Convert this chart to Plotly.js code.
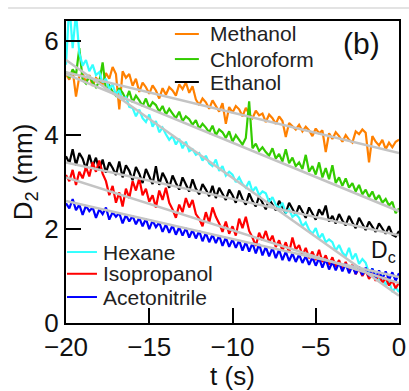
<!DOCTYPE html>
<html>
<head>
<meta charset="utf-8">
<script src="https://cdn.plot.ly/plotly-3.0.1.min.js"></script>
<style>html,body{margin:0;padding:0;background:#fff;}#chart{width:409px;height:391px;}</style>
</head>
<body>
<div id="chart"></div>
<script>
// sampling: t from -20 s, step 0.2 s
const t0 = -20, dt = 0.2;

const methanol = [
 5.30,5.18,5.38,4.82,5.25,5.32,5.12,5.28,5.05,5.22,
 5.15,5.08,5.32,5.20,5.45,5.30,4.55,5.36,5.22,5.30,
 5.05,5.20,4.92,5.12,5.02,4.88,5.06,4.95,4.78,5.00,
 4.86,5.02,4.95,4.84,5.08,4.98,5.12,4.90,5.04,4.76,
 4.64,4.78,4.70,4.56,4.74,4.62,4.50,4.68,4.24,4.60,
 4.48,4.62,4.55,4.40,4.58,4.45,4.36,4.52,4.42,4.46,
 4.28,4.44,4.36,4.24,4.40,4.30,3.96,4.26,4.18,4.12,
 4.22,4.08,4.18,4.10,3.98,4.14,4.04,4.10,3.64,4.04,
 3.92,4.06,3.98,3.86,4.00,3.90,3.84,4.08,4.02,4.12,
 4.05,3.42,3.98,3.86,3.78,3.90,3.70,3.84,3.74,3.86,
 3.90];
const chloroform = [
 5.35,5.22,5.40,5.28,5.85,5.18,5.10,5.26,5.12,5.02,
 5.14,5.55,4.96,5.06,4.92,4.84,5.00,4.90,4.76,4.94,
 4.70,4.84,4.74,4.62,4.78,4.58,4.70,4.64,4.50,4.62,
 4.44,4.56,4.46,4.36,4.50,4.30,4.40,4.34,4.22,4.32,
 4.14,4.24,4.16,4.06,4.20,4.00,4.12,4.06,3.94,4.08,
 3.86,4.00,3.90,3.80,3.94,4.72,3.72,3.82,3.66,3.74,
 3.64,3.56,3.72,3.50,3.60,3.44,3.70,3.40,3.52,3.34,
 3.42,3.28,3.58,3.22,3.34,3.16,3.42,3.10,3.30,3.06,
 3.36,2.98,3.10,2.92,3.08,2.88,2.98,2.80,2.94,2.74,
 2.84,2.68,2.80,2.62,2.72,2.56,2.64,2.50,2.58,2.34,
 2.44];
const ethanol = [
 3.55,3.40,3.70,3.36,3.62,3.50,3.28,3.58,3.34,3.52,
 3.25,3.48,3.20,3.42,3.30,3.15,3.44,3.10,3.36,3.24,
 3.04,3.32,3.18,2.98,3.28,3.12,2.96,3.34,2.94,3.20,
 3.06,2.88,3.14,2.98,2.84,3.10,2.96,2.80,3.06,2.86,
 2.74,2.96,2.84,2.70,2.92,2.66,2.88,2.76,2.62,2.84,
 2.72,2.56,2.82,2.64,2.52,2.76,2.60,2.48,2.70,2.56,
 2.42,2.64,2.52,2.40,2.60,2.46,2.34,2.56,2.44,2.30,
 2.50,2.36,2.24,2.46,2.34,2.20,2.42,2.30,2.50,2.16,
 2.28,2.12,2.32,2.18,2.08,2.28,2.14,2.02,2.24,2.12,
 1.98,2.16,2.04,1.94,2.12,2.00,1.90,2.06,1.88,1.84,
 1.96];
const hexane = [
 5.50,6.80,5.85,6.60,5.75,5.48,5.60,5.36,5.50,5.28,
 5.34,5.12,5.20,4.98,5.08,4.86,4.96,4.74,4.82,4.60,
 4.58,4.40,4.54,4.36,4.28,4.44,4.18,4.30,4.06,4.16,
 4.02,3.90,3.98,3.80,3.92,3.72,3.86,3.66,3.70,3.58,
 3.62,3.46,3.56,3.40,3.34,3.48,3.24,3.34,3.14,3.22,
 3.16,3.00,3.10,2.96,2.88,3.02,2.80,2.90,2.72,2.80,
 2.76,2.58,2.68,2.52,2.44,2.56,2.34,2.42,2.26,2.32,
 2.24,2.06,2.14,1.98,1.90,2.02,1.80,1.90,1.72,1.78,
 1.72,1.54,1.66,1.50,1.42,1.60,1.36,1.48,1.26,1.36,
 1.28,1.06,1.16,0.98,0.90,1.02,0.80,0.90,0.66,0.76,
 0.66];
const isopropanol = [
 3.15,3.02,3.26,2.94,3.22,3.08,3.32,3.12,3.42,3.22,
 3.46,3.18,3.02,2.72,2.92,2.56,2.78,2.48,2.86,2.66,
 3.02,2.82,3.08,2.72,2.86,2.58,2.72,2.46,2.82,2.62,
 2.88,2.56,2.42,2.24,2.52,2.36,2.66,2.46,2.62,2.32,
 2.22,2.06,2.36,2.14,2.46,2.26,2.12,1.94,2.16,1.90,
 2.06,1.86,2.22,2.02,2.26,1.96,1.82,1.64,1.92,1.76,
 1.96,1.72,1.86,1.62,1.76,1.54,1.72,1.50,1.82,1.56,
 1.66,1.44,1.60,1.38,1.52,1.34,1.56,1.30,1.44,1.24,
 1.40,1.20,1.34,1.14,1.30,1.10,1.24,1.04,1.16,1.00,
 1.12,0.94,1.06,0.90,1.02,0.86,0.96,0.80,0.90,0.74,
 0.86];
const acetonitrile = [
 2.55,2.44,2.64,2.40,2.52,2.30,2.50,2.38,2.46,2.24,
 2.42,2.32,2.46,2.20,2.36,2.26,2.34,2.12,2.30,2.16,
 2.28,2.10,2.24,2.06,2.22,2.00,2.18,2.04,2.14,1.94,
 2.10,1.92,2.08,1.88,2.04,1.86,2.02,1.82,1.98,1.80,
 1.96,1.74,1.92,1.72,1.88,1.70,1.86,1.64,1.82,1.62,
 1.78,1.60,1.76,1.54,1.72,1.52,1.70,1.48,1.68,1.44,
 1.62,1.42,1.60,1.38,1.56,1.34,1.52,1.32,1.48,1.30,
 1.46,1.28,1.42,1.24,1.40,1.22,1.38,1.18,1.36,1.14,
 1.30,1.12,1.28,1.10,1.26,1.06,1.22,1.04,1.20,1.02,
 1.18,1.00,1.16,0.96,1.12,0.94,1.10,0.92,1.08,0.90,
 1.06];

const names = ["Methanol","Chloroform","Ethanol","Hexane","Isopropanol","Acetonitrile"];
const series = [methanol, chloroform, ethanol, hexane, isopropanol, acetonitrile];
const colors = ["#ff8000","#33cc00","#000000","#33ffff","#ff0000","#0000ff"];

// gray straight-line fits: value at t=-20 and at t=0
const fitT = [-20, 0];
const fitStart = [5.34, 5.30, 3.42, 5.60, 3.10, 2.60];
const fitEnd   = [3.62, 2.38, 1.87, 0.58, 0.85, 0.98];

const xTicks = [-20, -15, -10, -5, 0];
const yTicks = [0, 2, 4, 6];

const traces = [];
series.forEach((s, k) => {
  traces.push({
    type: "scatter", mode: "lines", name: names[k], y: s, x0: t0, dx: dt,
    line: {color: colors[k], width: 2.2}, showlegend: false
  });
});
series.forEach((s, k) => {
  traces.push({
    type: "scatter", mode: "lines", x: fitT, y: [fitStart[k], fitEnd[k]],
    line: {color: "#c4c4c4", width: 2.5}, showlegend: false, hoverinfo: "skip"
  });
});

// hand-placed legend (two groups), in paper coordinates
const legendGroups = [
  {items: [0, 1, 2], lineX: [0.327, 0.399], textX: 0.426, ys: [0.957, 0.874, 0.798]},
  {items: [3, 4, 5], lineX: [0.003, 0.093], textX: 0.105, ys: [0.235, 0.163, 0.086]}
];
const FONT = "Liberation Sans, Arial, sans-serif";
const annotations = [];
const shapes = [
  {type: "line", xref: "paper", yref: "paper", x0: -0.174, x1: 1.03, y0: 1.043, y1: 1.043,
   line: {color: "#c8c8c8", width: 1.2}}
];
legendGroups.forEach(g => {
  g.items.forEach((k, j) => {
    shapes.push({type: "line", xref: "paper", yref: "paper", x0: g.lineX[0], x1: g.lineX[1],
      y0: g.ys[j], y1: g.ys[j], line: {color: colors[k], width: 2}});
    annotations.push({text: names[k], xref: "paper", yref: "paper", x: g.textX, y: g.ys[j],
      xanchor: "left", yanchor: "middle", showarrow: false,
      font: {size: 21, family: FONT, color: "#222"}});
  });
});
annotations.push(
  {text: "(b)", xref: "paper", yref: "paper", x: 0.886, y: 0.925, xanchor: "center", yanchor: "middle",
   showarrow: false, font: {size: 30, family: FONT, color: "#111"}},
  {text: "D<sub>c</sub>", xref: "paper", yref: "paper", x: 0.996, y: 0.238, xanchor: "right", yanchor: "middle",
   showarrow: false, font: {size: 23, family: FONT, color: "#111"}}
);

const layout = {
  width: 409, height: 391,
  margin: {l: 66, r: 10, t: 21, b: 68},
  paper_bgcolor: "#fff", plot_bgcolor: "#fff",
  font: {family: FONT, color: "#111", size: 26},
  xaxis: {
    range: [-20, 0], tickvals: xTicks, ticks: "inside", ticklen: 15, tickwidth: 2,
    tickcolor: "#000", showline: true, linewidth: 2, linecolor: "#000", mirror: true,
    showgrid: false, zeroline: false, tickfont: {size: 26, family: FONT, color: "#111"},
    title: {text: "t (s)", font: {size: 26, family: FONT, color: "#111"}, standoff: 1}
  },
  yaxis: {
    range: [0, 6.43], tickvals: yTicks, ticks: "inside", ticklen: 15, tickwidth: 2,
    tickcolor: "#000", showline: true, linewidth: 2, linecolor: "#000", mirror: true,
    showgrid: false, zeroline: false, tickfont: {size: 26, family: FONT, color: "#111"},
    title: {text: "D<sub>2</sub> (mm)", font: {size: 26, family: FONT, color: "#111"}, standoff: 4}
  },
  annotations: annotations,
  shapes: shapes,
  showlegend: false
};

Plotly.newPlot("chart", traces, layout, {displayModeBar: false, staticPlot: true});
</script>
</body>
</html>
